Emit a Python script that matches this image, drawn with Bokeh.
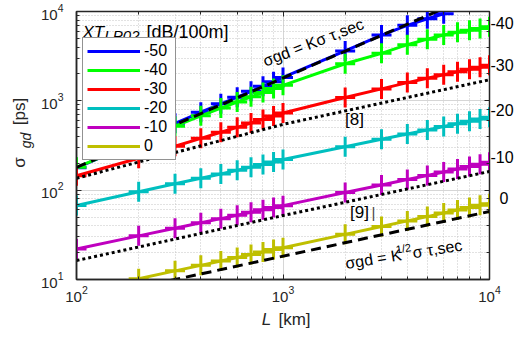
import math
from bokeh.plotting import figure
from bokeh.models import Range1d, LogAxis, Label, Legend, LegendItem, FixedTicker
from bokeh.embed import file_html
from bokeh.resources import INLINE

# ---------------- data ----------------
L_km = [100, 200, 300, 400, 500, 600, 700, 800, 900, 1000,
        2000, 3000, 4000, 5000, 6000, 7000, 8000, 9000, 10000]

L_m50 = L_km[:15]
sig_m50 = [178, 355, 560, 745, 925, 1100, 1280, 1460, 1640, 1830,
           3620, 5450, 7000, 8300, 9450]
sig_m40 = [180, 350, 520, 680, 830, 970, 1110, 1240, 1370, 1490,
           2600, 3400, 4250, 4900, 5450, 5850, 6150, 6450, 6750]
sig_m30 = [145, 228, 310, 380, 445, 505, 565, 620, 675, 730,
           1090, 1360, 1600, 1790, 1960, 2110, 2250, 2380, 2500]
sig_m20 = [67.5, 96, 118, 136, 152, 167, 181, 194, 207, 220,
           306, 371, 425, 472, 515, 555, 590, 625, 657]
sig_m10 = [22, 30.8, 37.4, 43.1, 48, 52.4, 56.5, 60.3, 63.8, 67.1,
           94, 114, 131.5, 146, 160, 172.5, 184, 195, 205]
L_0 = L_km[1:]
sig_0 = [10.2, 12.5, 14.4, 16.1, 17.6, 19.0, 20.3, 21.6, 22.7,
         32, 39.2, 45.3, 50.6, 55.5, 59.9, 64, 68, 70.5]

xt_labels = ["-50", "-40", "-30", "-20", "-10", "0"]
end_labels = ["-40", "-30", "-20", "-10", "\u00a0\u00a00"]
colors = ["#0000ff", "#00ff00", "#ff0000", "#00bfbf", "#bf00bf", "#bfbf00"]

# reference curves
ref_lin_L = [100, 10000]          # sigma_gd = K sigma_tau,sec
ref_lin_sig = [180, 18000]
ref_sqrt_L = [100, 10000]         # sigma_gd = K^1/2 sigma_tau,sec
ref_sqrt_sig = [5.77, 57.7]
ref8_L = [100, 1000, 10000]
ref8_sig = [136, 545, 1722]
ref9_L = [100, 1000, 10000]
ref9_sig = [16.3, 52, 162]

# ---------------- helpers: picture pixel -> data ----------------
def dx(px):
    return 10 ** (2 + (px - 76) / 206.5)

def dy(py):
    return 10 ** (1 + (279 - py) / 89.33)

# ---------------- figure ----------------
FONT = "Liberation Sans"
INK = "#262626"
p = figure(width=520, height=338, x_axis_type="log", y_axis_type="log",
           x_range=Range1d(100, 10000), y_range=Range1d(10, 10000),
           output_backend="svg", toolbar_location=None,
           min_border_left=76, min_border_right=31, min_border_top=11,
           min_border_bottom=59)
p.title.visible = False
p.background_fill_color = "white"
p.border_fill_color = "white"
p.outline_line_color = INK
p.outline_line_width = 1.5

for ax in (p.xaxis[0], p.yaxis[0]):
    ax.major_tick_in = 5
    ax.major_tick_out = 0
    ax.minor_tick_in = 3
    ax.minor_tick_out = 0
    ax.axis_line_color = INK
    ax.axis_line_width = 1.5
    ax.major_tick_line_color = INK
    ax.minor_tick_line_color = INK
    ax.major_label_text_font = FONT
    ax.major_label_text_font_size = "15px"
    ax.major_label_text_color = INK
p.xaxis.major_label_standoff = 6
p.yaxis.major_label_standoff = 13


def text_axis(cls_place, ticks, texts, size, style="normal", standoff=0,
              orientation="horizontal"):
    ax = LogAxis(ticker=FixedTicker(ticks=ticks, minor_ticks=[]),
                 major_label_overrides={t: s for t, s in zip(ticks, texts)},
                 major_label_orientation=orientation,
                 major_tick_in=0, major_tick_out=0, minor_tick_in=0, minor_tick_out=0,
                 axis_line_color=None, major_label_standoff=standoff,
                 major_label_text_font=FONT, major_label_text_font_size=f"{size}px",
                 major_label_text_font_style=style, major_label_text_color=INK)
    p.add_layout(ax, cls_place)
    return ax

# y-axis title: "σ" + subscript "gd" (italic) + "[ps]"
text_axis("left", [round(dy(140), 3)], ["gd"], 14, style="italic", standoff=3,
          orientation="vertical")
text_axis("left", [round(dy(162), 3), round(dy(111), 3)], ["σ", "[ps]"], 17,
          standoff=-14, orientation="vertical")

# x-axis title: italic "L" + "[km]"
text_axis("below", [round(dx(266), 3)], ["L"], 17, style="italic", standoff=5)
text_axis("below", [round(dx(294), 3)], ["[km]"], 17, standoff=-22)

# inward ticks on the right and top of the box
for place in ("right", "above"):
    ax = LogAxis(major_tick_in=5, major_tick_out=0, minor_tick_in=3, minor_tick_out=0,
                 major_label_text_font_size="1px", major_label_text_alpha=0,
                 major_label_standoff=0,
                 axis_line_color=INK, major_tick_line_color=INK,
                 minor_tick_line_color=INK)
    p.add_layout(ax, place)

# XT values written at the right-hand ends of the curves
end_pos = [round(dy(v), 3) for v in (23, 65, 110, 157, 198)]
end_ax = text_axis("right", end_pos, end_labels, 16, standoff=1)
end_ax.major_label_text_color = "black"

for g in (p.xgrid[0], p.ygrid[0]):
    g.grid_line_color = "#d6d6d6"
    g.grid_line_width = 1
    g.minor_grid_line_color = "#c4c4c4"
    g.minor_grid_line_dash = "1 2"

series = [(L_m50, sig_m50), (L_km, sig_m40), (L_km, sig_m30),
          (L_km, sig_m20), (L_km, sig_m10), (L_0, sig_0)]

legend_items = []
for (xs, ys), c, lab_ in zip(series, colors, xt_labels):
    r = p.line(xs, ys, line_color=c, line_width=3)
    p.scatter(xs, ys, marker="cross", size=20, line_color=c, line_width=3)
    legend_items.append(LegendItem(label=lab_, renderers=[r]))

p.line(ref8_L, ref8_sig, line_color="black", line_width=3, line_dash="3 3")
p.line(ref9_L, ref9_sig, line_color="black", line_width=3, line_dash="3 3")
p.line(ref_lin_L, ref_lin_sig, line_color="black", line_width=3, line_dash="10 6")
p.line(ref_sqrt_L, ref_sqrt_sig, line_color="black", line_width=3, line_dash="10 6")

legend = Legend(items=legend_items, location=(6, 119), padding=4, spacing=1,
                label_height=18, glyph_height=18, glyph_width=53, label_standoff=4,
                label_width=27, label_text_font=FONT, label_text_font_size="16px",
                label_text_color="black", border_line_color=INK,
                border_line_width=1, background_fill_alpha=1, margin=0)
p.add_layout(legend)

# ---------------- annotations inside the box (positions in picture pixels) ----------------
def lab(text, px, py, size, style="normal", angle=0.0, align="left",
        baseline="alphabetic", color="black"):
    p.add_layout(Label(x=dx(px), y=dy(py), text=text, text_font=FONT,
                       text_font_size=f"{size}px", text_font_style=style,
                       angle=math.radians(angle), text_align=align,
                       text_baseline=baseline, text_color=color))

# legend title
lab("XT", 82, 32, 17, style="italic")
lab("LP02", 104, 35, 15, style="italic")
lab("[dB/100m]", 146, 32, 18)

# formulas
lab("σgd = Kσ τ,sec", 263, 61, 16, angle=21)
a = math.radians(9)
x0, y0 = 345, 263
lab("σgd = K", x0, y0, 16, angle=9)
lab("1/2", x0 + 52 * math.cos(a) - 6 * math.sin(a), y0 - 52 * math.sin(a) - 6 * math.cos(a), 11, angle=9)
lab("σ τ,sec", x0 + 68 * math.cos(a), y0 - 68 * math.sin(a), 16, angle=9)
lab("[8]", 354, 119, 17, align="center", baseline="middle")
lab("[9]", 359, 212, 17, align="center", baseline="middle")
lab("|", 373, 212, 15, align="center", baseline="middle", color="#444444")

open("out.html", "w").write(file_html(p, INLINE))
